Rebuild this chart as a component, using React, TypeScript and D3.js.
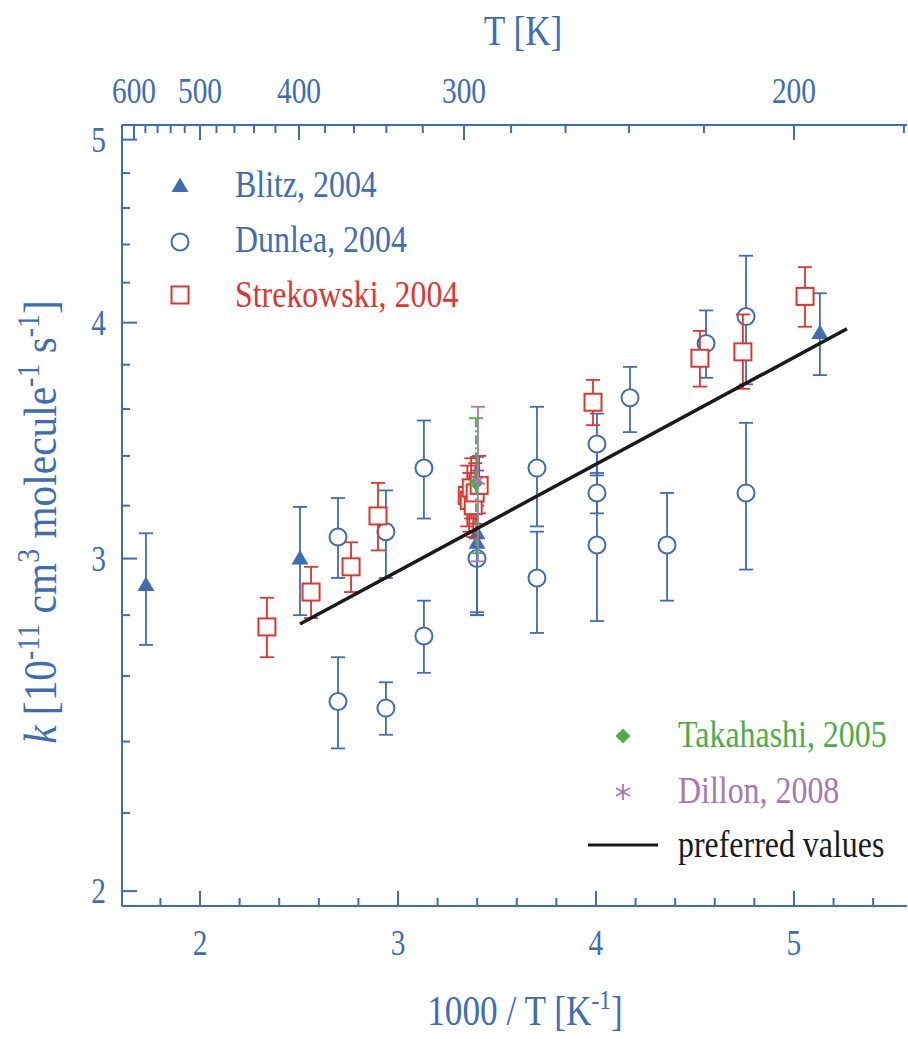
import React from 'react'
import * as d3 from 'd3'

// [1000/T, k, k_low, k_high]  (k in 1e-11 cm3 molecule-1 s-1)
const blitz = [
  [1.727, 2.905, 2.7, 3.094],
  [2.505, 3.0, 2.8, 3.195],
  [3.399, 3.094, 2.81, 3.396],
  [3.399, 3.058, 2.8, 3.34],
  [5.131, 3.95, 3.752, 4.146],
]

const dunlea = [
  [2.697, 3.08, 2.93, 3.23],
  [2.697, 2.52, 2.38, 2.66],
  [2.939, 3.1, 2.93, 3.26],
  [2.939, 2.5, 2.42, 2.58],
  [3.131, 3.35, 3.15, 3.55],
  [3.131, 2.73, 2.61, 2.85],
  [3.399, 3.0, 2.8, 3.2],
  [3.702, 3.35, 3.12, 3.61],
  [3.702, 2.93, 2.74, 3.1],
  [4.005, 3.45, 3.32, 3.58],
  [4.005, 3.25, 3.17, 3.46],
  [4.005, 3.05, 2.78, 3.33],
  [4.172, 3.65, 3.5, 3.79],
  [4.359, 3.05, 2.85, 3.25],
  [4.556, 3.9, 3.74, 4.06],
  [4.758, 4.03, 3.71, 4.34],
  [4.758, 3.25, 2.96, 3.54],
]

const strekowski = [
  [2.338, 2.76, 2.66, 2.86],
  [2.561, 2.88, 2.79, 2.97],
  [2.763, 2.97, 2.88, 3.06],
  [2.899, 3.16, 3.03, 3.29],
  [3.35, 3.24, 3.12, 3.36],
  [3.36, 3.22, 3.1, 3.33],
  [3.37, 3.27, 3.15, 3.39],
  [3.38, 3.2, 3.08, 3.3],
  [3.39, 3.25, 3.13, 3.37],
  [3.41, 3.28, 3.17, 3.4],
  [3.985, 3.63, 3.53, 3.73],
  [4.525, 3.83, 3.7, 3.96],
  [4.742, 3.86, 3.69, 4.04],
  [5.056, 4.13, 3.98, 4.28],
]

const takahashi = [[3.394, 3.29, 3.02, 3.56]]
const dillon = [[3.404, 3.3, 2.99, 3.61]]

const preferredX = [2.505, 5.268]
const preferredK = [2.77, 3.97]

const xMajor = [2, 3, 4, 5]
const xMinor = [1.8, 2.2, 2.4, 2.6, 2.8, 3.2, 3.4, 3.6, 3.8, 4.2, 4.4, 4.6, 4.8, 5.2, 5.4]
const yMajor = [2, 3, 4, 5]
const yMinor = [2.2, 2.4, 2.6, 2.8, 3.2, 3.4, 3.6, 3.8, 4.2, 4.4, 4.6, 4.8]
const tMajor = [600, 500, 400, 300, 200]
const tMinor = [580, 560, 540, 520, 480, 460, 440, 420, 380, 360, 340, 320, 280, 260, 240, 220, 180]

const BLUE = '#3e6db4'
const RED = '#de3530'
const GREEN = '#4bad48'
const PURPLE = '#a876b6'
const FONT = '"Liberation Serif", "Times New Roman", serif'
const SQ = 0.84 // horizontal squeeze of the original lettering

const W = 908
const H = 1039
const x = d3.scaleLinear().domain([1.606, 5.571]).range([122, 907])
const y = d3.scaleLog().domain([1.964, 5.09]).range([906, 125])

const Txt = ({ tx, ty, size, color, anchor = 'start', children }: any) => (
  <text
    transform={`translate(${tx},${ty}) scale(${SQ},1)`}
    fontSize={size}
    fill={color}
    fontFamily={FONT}
    textAnchor={anchor}
  >
    {children}
  </text>
)

const ErrorBars = ({ data, color, dash }: any) => (
  <g stroke={color} strokeWidth={1.8} fill="none" strokeDasharray={dash}>
    {data.map((d: number[], i: number) => {
      const cx = x(d[0])
      return (
        <g key={i}>
          <line x1={cx} x2={cx} y1={y(d[3])} y2={y(d[2])} />
          <line x1={cx - 7} x2={cx + 7} y1={y(d[3])} y2={y(d[3])} strokeDasharray="none" />
          <line x1={cx - 7} x2={cx + 7} y1={y(d[2])} y2={y(d[2])} strokeDasharray="none" />
        </g>
      )
    })}
  </g>
)

const triPath = 'M0,-8.5L8.5,6L-8.5,6Z'
const diaPath = 'M0,-7.5L7.5,0L0,7.5L-7.5,0Z'

const Circle = ({ cx, cy }: any) => (
  <circle cx={cx} cy={cy} r={8.5} fill="#fff" stroke={BLUE} strokeWidth={2} />
)
const Square = ({ cx, cy }: any) => (
  <rect x={cx - 8.5} y={cy - 8.5} width={17} height={17} fill="#fff" stroke={RED} strokeWidth={2} />
)
const Triangle = ({ cx, cy }: any) => (
  <path d={triPath} transform={`translate(${cx},${cy})`} fill={BLUE} />
)
const Diamond = ({ cx, cy }: any) => (
  <path d={diaPath} transform={`translate(${cx},${cy})`} fill={GREEN} />
)
const Star = ({ cx, cy }: any) => (
  <g transform={`translate(${cx},${cy})`} stroke={PURPLE} strokeWidth={1.8}>
    {[90, 30, 150].map((a) => {
      const r = (a * Math.PI) / 180
      return (
        <line key={a} x1={-8 * Math.cos(r)} y1={-8 * Math.sin(r)} x2={8 * Math.cos(r)} y2={8 * Math.sin(r)} />
      )
    })}
  </g>
)

export default function App() {
  const [x0, x1] = x.range()
  const [yb, yt] = y.range()
  const line = d3
    .line<number>()
    .x((d) => x(d))
    .y((_, i) => y(preferredK[i]))

  return (
    <svg width={W} height={H} style={{ position: 'absolute', left: 0, top: 0, background: '#fff' }}>
      {/* frame */}
      <g stroke={BLUE} strokeWidth={2} fill="none">
        <line x1={x0} x2={x1} y1={yb} y2={yb} />
        <line x1={x0} x2={x1} y1={yt} y2={yt} />
        <line x1={x0} x2={x0} y1={yt} y2={yb} />
        {xMajor.map((v) => (
          <line key={'xm' + v} x1={x(v)} x2={x(v)} y1={yb} y2={yb - 15} />
        ))}
        {xMinor.map((v) => (
          <line key={'xn' + v} x1={x(v)} x2={x(v)} y1={yb} y2={yb - 8} />
        ))}
        {yMajor.map((v) => (
          <line key={'ym' + v} x1={x0} x2={x0 + 15} y1={y(v)} y2={y(v)} />
        ))}
        {yMinor.map((v) => (
          <line key={'yn' + v} x1={x0} x2={x0 + 8} y1={y(v)} y2={y(v)} />
        ))}
        {tMajor.map((t) => (
          <line key={'tm' + t} x1={x(1000 / t)} x2={x(1000 / t)} y1={yt} y2={yt + 15} />
        ))}
        {tMinor.map((t) => (
          <line key={'tn' + t} x1={x(1000 / t)} x2={x(1000 / t)} y1={yt} y2={yt + 8} />
        ))}
      </g>

      {/* tick labels */}
      {xMajor.map((v) => (
        <Txt key={'xl' + v} tx={x(v)} ty={yb + 49} size={35} color={BLUE} anchor="middle">
          {v}
        </Txt>
      ))}
      {yMajor.map((v) => (
        <Txt key={'yl' + v} tx={x0 - 16} ty={y(v) + 12} size={35} color={BLUE} anchor="end">
          {v}
        </Txt>
      ))}
      {tMajor.map((t) => (
        <Txt key={'tl' + t} tx={x(1000 / t)} ty={yt - 22} size={35} color={BLUE} anchor="middle">
          {t}
        </Txt>
      ))}

      {/* axis titles */}
      <Txt tx={523} ty={45} size={42} color={BLUE} anchor="middle">
        T [K]
      </Txt>
      <Txt tx={525} ty={1025} size={42} color={BLUE} anchor="middle">
        1000 / T [K
        <tspan dy={-16} fontSize={28}>-1</tspan>
        <tspan dy={16}>]</tspan>
      </Txt>
      <text
        transform="translate(56,522) rotate(-90) scale(0.9,1)"
        fontSize={46}
        fill={BLUE}
        fontFamily={FONT}
        textAnchor="middle"
      >
        <tspan fontStyle="italic">k</tspan> [10
        <tspan dy={-17} fontSize={31}>-11</tspan>
        <tspan dy={17}> cm</tspan>
        <tspan dy={-17} fontSize={31}>3</tspan>
        <tspan dy={17}> molecule</tspan>
        <tspan dy={-17} fontSize={31}>-1</tspan>
        <tspan dy={17}> s</tspan>
        <tspan dy={-17} fontSize={31}>-1</tspan>
        <tspan dy={17}>]</tspan>
      </text>

      {/* data */}
      <ErrorBars data={dunlea} color={BLUE} />
      {dunlea.map((d, i) => (
        <Circle key={'d' + i} cx={x(d[0])} cy={y(d[1])} />
      ))}
      <ErrorBars data={blitz} color={BLUE} />
      {blitz.map((d, i) => (
        <Triangle key={'b' + i} cx={x(d[0])} cy={y(d[1])} />
      ))}
      <ErrorBars data={strekowski} color={RED} />
      {strekowski.map((d, i) => (
        <Square key={'s' + i} cx={x(d[0])} cy={y(d[1])} />
      ))}
      <ErrorBars data={takahashi} color={GREEN} dash="9,3,2,3" />
      {takahashi.map((d, i) => (
        <Diamond key={'t' + i} cx={x(d[0])} cy={y(d[1])} />
      ))}
      <ErrorBars data={dillon} color={PURPLE} />
      {dillon.map((d, i) => (
        <Star key={'dl' + i} cx={x(d[0])} cy={y(d[1])} />
      ))}

      <path d={line(preferredX) || ''} stroke="#1a1a1a" strokeWidth={3.5} fill="none" />

      {/* legend, upper left */}
      <Triangle cx={180} cy={186} />
      <Txt tx={235} ty={197} size={38} color={BLUE}>Blitz, 2004</Txt>
      <Circle cx={180} cy={242} />
      <Txt tx={235} ty={252} size={38} color={BLUE}>Dunlea, 2004</Txt>
      <Square cx={180} cy={295} />
      <Txt tx={235} ty={307} size={38} color={RED}>Strekowski, 2004</Txt>

      {/* legend, lower right */}
      <Diamond cx={623} cy={736} />
      <Txt tx={678} ty={747} size={38} color={GREEN}>Takahashi, 2005</Txt>
      <Star cx={623} cy={792} />
      <Txt tx={678} ty={803} size={38} color={PURPLE}>Dillon, 2008</Txt>
      <line x1={588} x2={658} y1={845} y2={845} stroke="#1a1a1a" strokeWidth={3} />
      <Txt tx={678} ty={857} size={38} color="#1a1a1a">preferred values</Txt>
    </svg>
  )
}
